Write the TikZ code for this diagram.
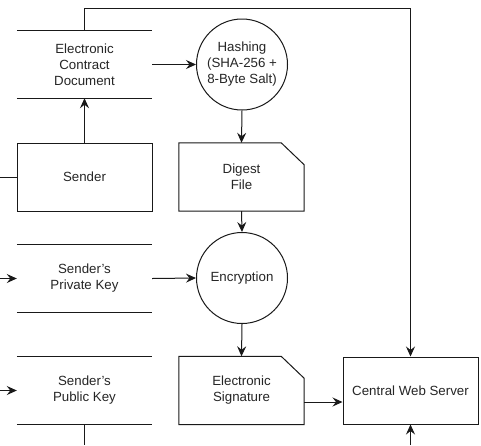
\documentclass[tikz,border=0pt]{standalone}
\usepackage{fontspec}
\setmainfont{Liberation Sans}
\usetikzlibrary{arrows.meta,calc}
\begin{document}
\begin{tikzpicture}[x=1pt,y=-1pt,
  every node/.style={font=\fontsize{13.3}{16}\selectfont, align=center, inner sep=0pt, text=black!85},
  line/.style={line width=1pt, draw=black!90},
  arr/.style={line width=1pt, draw=black!90, -{Stealth[length=10pt,width=9pt,inset=3.5pt]}},
  store/.style={minimum width=135pt, minimum height=67pt},
  proc/.style={draw=black!90, line width=1pt, minimum width=135pt, minimum height=68pt},
  docnode/.style={minimum width=125pt, minimum height=68pt},
  circ/.style={circle, draw=black!90, line width=1pt, minimum size=91pt}
]
\useasboundingbox (0,0) rectangle (481,445);
\fill[white] (0,0) rectangle (481,445);

% data stores
\node[store] (ecd) at (84.5,64.5) {Electronic\\Contract\\Document};
\node[store] (priv) at (84.5,278.5) {Sender's\\Private Key};
\node[store] (pub) at (84.5,390.5) {Sender's\\Public Key};
\foreach \s in {ecd,priv,pub}{
  \draw[line] (\s.north west) -- (\s.north east);
  \draw[line] (\s.south west) -- (\s.south east);
}

% processes
\node[proc] (snd) at (84.5,177) {Sender};
\node[proc, minimum height=67pt] (srv) at (410.5,390.5) {Central Web Server};
\node[circ] (hash) at (242,64.5) {Hashing\\(SHA-256 +\\8-Byte Salt)};
\node[circ] (enc) at (242,278) {Encryption};

% documents with a folded corner
\node[docnode] (dig) at (241.5,177) {Digest\\File};
\node[docnode] (sig) at (241.5,390.5) {Electronic\\Signature};
\foreach \s in {dig,sig}{
  \draw[line, line join=miter] (\s.north west) -- ([xshift=-23pt]\s.north east)
    -- ([yshift=-22pt]\s.north east) -- (\s.south east) -- (\s.south west) -- cycle;
}

% free ends
\coordinate (inS) at (0,177);
\coordinate (inPriv) at (0,278.5);
\coordinate (inPub) at (0,390.5);
\coordinate (outPub) at (84.5,445);
\coordinate (inSrv) at (410.5,445);
\coordinate (topL) at (84.5,8);
\coordinate (topR) at (410.5,8);

% connectors
\draw[line] (inS) -- (snd.west);
\draw[arr] (inPriv) -- (priv.west);
\draw[arr] (inPub) -- (pub.west);
\draw[arr] (snd.north) -- (ecd.south);
\draw[arr] (ecd.east) -- (hash.west);
\draw[arr] (hash.south) -- (dig.north);
\draw[arr] (dig.south) -- (enc.north);
\draw[arr] (priv.east) -- (enc.west);
\draw[arr] (enc.south) -- (sig.north);
\draw[arr] ([yshift=-11.5pt]sig.east) -- ([yshift=-11.5pt]sig.east -| srv.west);
\draw[arr] (ecd.north) -- (topL) -- (topR) -- (srv.north);
\draw[line] (pub.south) -- (outPub);
\draw[arr] (inSrv) -- (srv.south);
\end{tikzpicture}
\end{document}
